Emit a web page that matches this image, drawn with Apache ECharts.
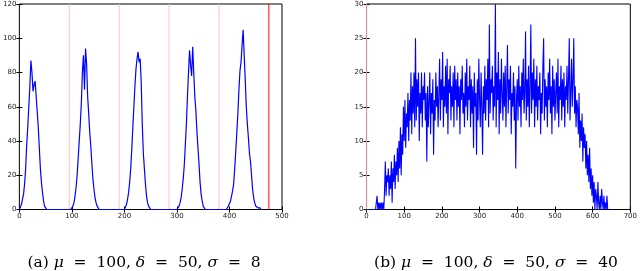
<!DOCTYPE html>
<html>
<head>
<meta charset="utf-8">
<script src="https://cdn.jsdelivr.net/npm/echarts@6/dist/echarts.min.js"></script>
<style>
html,body{margin:0;padding:0;background:#fff;}
#c{width:640px;height:271px;}
</style>
</head>
<body>
<div id="c"></div>
<script>
// ---- Data: panel (a) ----
const leftXTicks = [0, 100, 200, 300, 400, 500];
const leftYTicks = [0, 20, 40, 60, 80, 100, 120];
const leftStep = 2;
const leftPeakStarts = [0, 98, 200, 300, 394];
const leftPeak1 = [0,1,3,6,9,15,24,38,48,60,72,87,80,69,73,75,66,57,48,36,24,16,10,5,2,1,0];
const leftPeak2 = [0,1,2,4,8,13,20,30,40,50,62,80,90,70,94,85,66,56,45,37,27,18,12,7,4,2,1,0];
const leftPeak3 = [0,1,3,6,10,16,24,35,48,60,72,82,88,92,86,88,74,50,33,24,15,8,4,2,1,0];
const leftPeak4 = [0,1,2,4,7,12,18,26,38,50,66,80,93,84,78,95,80,66,58,46,36,27,16,9,5,2,1,0];
const leftPeak5 = [0,1,2,3,5,8,11,15,24,34,45,56,70,81,86,96,105,90,76,60,50,42,33,28,20,12,7,4,2,1,1,0,1,0];
const leftFadedLines = [95, 190, 285, 380];
const leftBrightLines = [475];

// ---- Data: panel (b) ----
const rightXTicks = [0, 100, 200, 300, 400, 500, 600, 700];
const rightYTicks = [0, 5, 10, 15, 20, 25, 30];
const rightXStart = 0;
const rightStep = 2;
const rightValues = [
  0,0,0,0,0,0,0,0,0,0,0,0,0,0,2,0,1,0,1,0,
  1,0,1,0,3,7,2,5,4,6,2,5,3,7,1,6,4,8,3,7,
  5,9,4,10,6,12,5,11,8,15,10,16,9,14,12,17,10,16,13,20,
  11,18,14,20,12,25,13,19,15,20,10,17,14,20,12,18,16,20,13,17,
  7,18,12,16,20,11,17,14,19,8,16,13,20,15,18,12,17,22,13,19,
  16,23,12,18,15,21,14,22,11,19,17,21,13,18,15,20,12,21,16,19,
  13,20,15,18,11,19,16,21,14,17,12,20,15,22,13,18,16,21,12,19,
  14,18,9,20,15,17,8,19,13,22,16,12,20,15,8,18,14,21,13,19,
  16,22,12,27,14,19,17,21,13,18,15,30,12,20,16,23,11,19,14,22,
  17,13,20,15,21,12,18,24,14,19,16,21,11,17,15,20,13,18,6,16,
  19,13,21,15,18,12,20,16,22,14,17,26,13,19,15,21,12,18,27,14,
  20,16,22,12,19,15,21,13,18,16,20,11,17,14,21,25,13,19,15,18,
  12,20,16,22,14,18,11,21,15,19,13,17,20,14,22,12,18,16,21,13,
  19,15,20,12,18,16,21,14,19,25,13,17,22,15,19,25,14,18,12,16,
  15,11,17,9,13,10,14,7,12,9,11,6,10,5,8,4,9,3,6,2,
  5,1,4,0,3,2,0,4,1,0,2,0,3,1,0,2,0,1,0,2,
  0,0
];
const rightEdgeLines = [0];

const captionA = ['(a) ', 'μ', '  =  100, ', 'δ', '  =  50, ', 'σ', '  =  8'];
const captionB = ['(b) ', 'μ', '  =  100, ', 'δ', '  =  50, ', 'σ', '  =  40'];

// ---- Build ----
const leftPeaks = [leftPeak1, leftPeak2, leftPeak3, leftPeak4, leftPeak5];
const leftData = [];
leftPeaks.forEach((vals, k) => {
  vals.forEach((v, i) => leftData.push([leftPeakStarts[k] + i * leftStep, v]));
});
const rightData = rightValues.map((v, i) => [rightXStart + i * rightStep, v]);

function vlines(xs, ymin, ymax) {
  const d = [];
  xs.forEach((x, i) => {
    if (i > 0) d.push([x, null]);
    d.push([x, ymin]); d.push([x, ymax]);
  });
  return d;
}

function capText(parts) {
  return parts.map((p, i) => (i % 2 === 1) ? '{i|' + p + '}' : '{n|' + p + '}').join('');
}

const labelStyle = {fontSize: 7, color: '#222', fontFamily: 'DejaVu Sans'};
function mkX(gi, min, max, itv, show) {
  return {
    type: 'value', gridIndex: gi, min: min, max: max, interval: itv,
    position: show ? 'bottom' : 'top',
    axisLine: {show: false},
    axisTick: {show: true, inside: true, length: 3, lineStyle: {color: '#000', width: 1}},
    axisLabel: Object.assign({show: show, margin: 3}, labelStyle),
    splitLine: {show: false}
  };
}
function mkY(gi, min, max, itv, show) {
  return {
    type: 'value', gridIndex: gi, min: min, max: max, interval: itv,
    position: show ? 'left' : 'right',
    axisLine: {show: false},
    axisTick: {show: true, inside: true, length: 3, lineStyle: {color: '#000', width: 1}},
    axisLabel: Object.assign({show: show, margin: 3}, labelStyle),
    splitLine: {show: false}
  };
}

const chart = echarts.init(document.getElementById('c'), null, {renderer: 'canvas'});
const capRich = {
  n: {fontFamily: 'DejaVu Serif', fontSize: 15.5, fontWeight: 'normal', color: '#000'},
  i: {fontFamily: 'DejaVu Serif', fontStyle: 'italic', fontWeight: 'normal', fontSize: 15.5, color: '#000'}
};

chart.setOption({
  animation: false,
  backgroundColor: '#fff',
  title: [
    {text: capText(captionA), left: 139, top: 250, textAlign: 'center',
     textStyle: {fontWeight: 'normal', rich: capRich}},
    {text: capText(captionB), left: 491, top: 250, textAlign: 'center',
     textStyle: {fontWeight: 'normal', rich: capRich}}
  ],
  grid: [
    {left: 14, top: 4, width: 268, height: 205.5, show: true, borderColor: '#000', borderWidth: 1, backgroundColor: 'transparent'},
    {left: 366.5, top: 4, width: 267.5, height: 205.5, show: true, borderColor: '#000', borderWidth: 1, backgroundColor: 'transparent'}
  ],
  xAxis: [
    mkX(0, 0, 500, 100, true), mkX(0, 0, 500, 100, false),
    mkX(1, 0, 700, 100, true), mkX(1, 0, 700, 100, false)
  ],
  yAxis: [
    mkY(0, 0, 120, 20, true), mkY(0, 0, 120, 20, false),
    mkY(1, 0, 30, 5, true), mkY(1, 0, 30, 5, false)
  ],
  series: [
    {type: 'line', xAxisIndex: 0, yAxisIndex: 0, data: vlines(leftFadedLines, 0, 120), showSymbol: false,
     connectNulls: false, lineStyle: {color: '#ffc0c0', width: 1}, z: 2, silent: true},
    {type: 'line', xAxisIndex: 0, yAxisIndex: 0, data: vlines(leftBrightLines, 0, 120), showSymbol: false,
     connectNulls: false, lineStyle: {color: '#ff0000', width: 1}, z: 2, silent: true},
    {type: 'line', xAxisIndex: 0, yAxisIndex: 0, data: leftData, showSymbol: false,
     lineStyle: {color: '#0000ff', width: 1.2}, z: 3},
    {type: 'line', xAxisIndex: 2, yAxisIndex: 2, data: rightData, showSymbol: false,
     lineStyle: {color: '#0000ff', width: 1.1}, z: 3},
    {type: 'line', xAxisIndex: 2, yAxisIndex: 2, data: vlines(rightEdgeLines, 0, 30), showSymbol: false,
     connectNulls: false, lineStyle: {color: '#e09090', width: 1.2}, z: 5, silent: true}
  ]
});
</script>
</body>
</html>
